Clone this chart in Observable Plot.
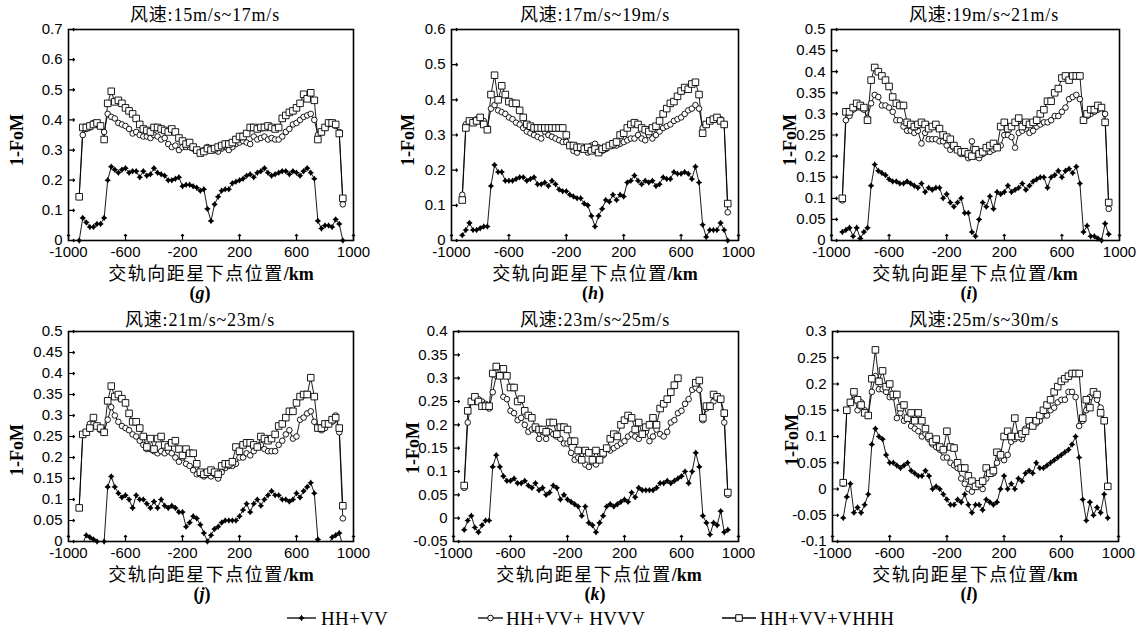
<!DOCTYPE html>
<html><head><meta charset="utf-8">
<script src="https://cdn.jsdelivr.net/npm/d3@7"></script>
<script src="https://cdn.jsdelivr.net/npm/@observablehq/plot@0.6"></script>
<style>
body{margin:0;background:#fff}
#root{position:relative;width:1137px;height:632px;overflow:hidden;background:#fff}
.t{position:absolute;transform:translate(-50%,-50%);white-space:nowrap;color:#000;line-height:1}
.title{font-family:"Liberation Serif","Noto Sans CJK SC",serif;font-size:18px;letter-spacing:0.8px}
.xl{font-family:"Noto Sans CJK SC","Liberation Serif",serif;font-size:18px;letter-spacing:1.5px;line-height:18px}
.xl b{font-family:"Liberation Serif",serif;letter-spacing:0}
.yl{font-family:"Liberation Serif",serif;font-size:18px;font-weight:bold;transform:translate(-50%,-50%) rotate(-90deg)}
.pl{font-family:"Liberation Serif",serif;font-size:18px;font-weight:bold}
.lg{font-family:"Liberation Serif",serif;font-size:19px;position:absolute;white-space:nowrap;transform:translateY(-50%);line-height:1;letter-spacing:0.3px}
.panel{position:absolute}
.panel text{font-size:15px}
</style></head><body><div id="root"></div>
<script>
const xs = [-925,-900,-875,-850,-825,-800,-775,-750,-725,-700,-675,-650,-625,-600,-575,-550,-525,-500,-475,-450,-425,-400,-375,-350,-325,-300,-275,-250,-225,-200,-175,-150,-125,-100,-75,-50,-25,0,25,50,75,100,125,150,175,200,225,250,275,300,325,350,375,400,425,450,475,500,525,550,575,600,625,650,675,700,725,750,775,800,825,850,875,900,925];
const seriesNames = ["HH+VV","HH+VV+ HVVV","HH+VV+VHHH"];
const titles = ["风速:15m/s~17m/s","风速:17m/s~19m/s","风速:19m/s~21m/s","风速:21m/s~23m/s","风速:23m/s~25m/s","风速:25m/s~30m/s"];
const letters = ["g","h","i","j","k","l"];
const xTicks = [-1000,-600,-200,200,600,1000];
const yTicksG = [0,0.1,0.2,0.3,0.4,0.5,0.6,0.7];
const yTicksH = [0,0.1,0.2,0.3,0.4,0.5,0.6];
const yTicksI = [0,0.05,0.1,0.15,0.2,0.25,0.3,0.35,0.4,0.45,0.5];
const yTicksJ = [0,0.05,0.1,0.15,0.2,0.25,0.3,0.35,0.4,0.45,0.5];
const yTicksK = [-0.05,0,0.05,0.1,0.15,0.2,0.25,0.3,0.35,0.4];
const yTicksL = [-0.1,-0.05,0,0.05,0.1,0.15,0.2,0.25,0.3];

// panel g
const gA = [0,0.075,0.06,0.045,0.045,0.055,0.055,0.075,0.2,0.245,0.235,0.225,0.235,0.24,0.225,
0.23,0.23,0.21,0.23,0.215,0.22,0.24,0.225,0.22,0.215,0.2,0.2,0.205,0.21,0.18,
0.185,0.185,0.18,0.175,0.165,0.17,0.105,0.065,0.12,0.145,0.165,0.17,0.17,0.19,0.195,
0.2,0.205,0.215,0.22,0.21,0.225,0.23,0.24,0.225,0.215,0.22,0.225,0.23,0.23,0.22,
0.23,0.225,0.215,0.23,0.24,0.225,0.205,0.065,0.04,0.05,0.05,0.045,0.07,0.055,0];
const gB = [0.145,0.35,0.37,0.375,0.39,0.385,0.38,0.36,0.42,0.41,0.405,0.39,0.385,0.38,0.37,
0.355,0.36,0.35,0.345,0.345,0.34,0.35,0.345,0.335,0.34,0.32,0.31,0.315,0.3,0.31,
0.31,0.31,0.305,0.3,0.295,0.3,0.31,0.305,0.3,0.295,0.305,0.31,0.3,0.31,0.32,
0.325,0.33,0.325,0.32,0.345,0.335,0.34,0.345,0.335,0.34,0.335,0.335,0.345,0.36,0.37,
0.385,0.39,0.4,0.41,0.415,0.42,0.4,0.35,0.36,0.375,0.385,0.39,0.38,0.36,0.12];
const gC = [0.145,0.375,0.375,0.38,0.385,0.39,0.38,0.335,0.455,0.495,0.46,0.465,0.455,0.44,0.43,
0.42,0.405,0.385,0.37,0.365,0.36,0.375,0.375,0.37,0.365,0.36,0.37,0.36,0.34,0.33,
0.32,0.325,0.31,0.3,0.29,0.295,0.305,0.3,0.305,0.31,0.315,0.32,0.32,0.325,0.335,
0.345,0.345,0.355,0.375,0.375,0.37,0.375,0.375,0.38,0.375,0.37,0.375,0.405,0.415,0.425,
0.43,0.44,0.455,0.485,0.47,0.49,0.465,0.335,0.36,0.375,0.39,0.39,0.385,0.355,0.14];
// panel h
const hA = [0.015,0.03,0.05,0.03,0.03,0.035,0.04,0.04,0.155,0.215,0.195,0.195,0.17,0.17,0.17,
0.175,0.18,0.18,0.17,0.175,0.18,0.16,0.16,0.165,0.155,0.17,0.16,0.145,0.14,0.14,
0.13,0.125,0.12,0.12,0.105,0.1,0.07,0.04,0.07,0.09,0.115,0.11,0.13,0.115,0.13,
0.125,0.165,0.17,0.185,0.17,0.16,0.17,0.165,0.17,0.155,0.16,0.18,0.175,0.175,0.195,
0.19,0.19,0.195,0.19,0.175,0.21,0.165,0.045,0.01,0.03,0.03,0.03,0.05,0.03,0];
const hB = [0.13,0.33,0.34,0.34,0.345,0.34,0.34,0.32,0.375,0.385,0.37,0.365,0.36,0.35,0.345,
0.335,0.33,0.32,0.31,0.305,0.3,0.295,0.29,0.31,0.3,0.295,0.29,0.285,0.28,0.28,
0.27,0.255,0.25,0.26,0.265,0.25,0.27,0.275,0.265,0.255,0.26,0.27,0.27,0.27,0.275,
0.28,0.285,0.29,0.29,0.3,0.29,0.285,0.3,0.29,0.3,0.31,0.32,0.325,0.33,0.34,
0.345,0.35,0.36,0.37,0.375,0.385,0.375,0.32,0.33,0.34,0.345,0.35,0.345,0.33,0.08];
const hC = [0.115,0.32,0.34,0.335,0.34,0.35,0.33,0.315,0.415,0.47,0.4,0.44,0.415,0.395,0.39,
0.39,0.37,0.35,0.33,0.325,0.32,0.32,0.32,0.32,0.32,0.32,0.32,0.32,0.32,0.3,
0.27,0.27,0.265,0.265,0.26,0.265,0.255,0.26,0.25,0.26,0.265,0.27,0.275,0.28,0.3,
0.305,0.32,0.33,0.335,0.33,0.32,0.315,0.31,0.32,0.325,0.34,0.36,0.375,0.39,0.395,
0.41,0.425,0.435,0.43,0.445,0.45,0.415,0.305,0.33,0.34,0.345,0.35,0.34,0.33,0.105];
// panel i
const iA = [0.02,0.025,0.03,0.01,0.03,0.005,0.02,0.03,0.13,0.18,0.165,0.16,0.155,0.145,0.14,
0.14,0.135,0.135,0.14,0.135,0.13,0.125,0.135,0.115,0.125,0.12,0.125,0.125,0.1,0.11,
0.09,0.08,0.09,0.1,0.065,0.065,0.02,0.01,0.05,0.09,0.08,0.105,0.075,0.115,0.11,
0.115,0.13,0.115,0.12,0.125,0.135,0.12,0.13,0.14,0.145,0.15,0.15,0.125,0.15,0.155,
0.165,0.15,0.165,0.17,0.16,0.175,0.135,0.02,0.035,0.01,0.01,0.005,0,0.04,0.015];
const iB = [0.095,0.285,0.295,0.31,0.315,0.315,0.31,0.29,0.325,0.345,0.34,0.32,0.32,0.315,0.305,
0.285,0.285,0.27,0.26,0.26,0.255,0.26,0.23,0.255,0.24,0.24,0.24,0.235,0.235,0.225,
0.215,0.22,0.215,0.205,0.205,0.195,0.235,0.2,0.195,0.205,0.21,0.21,0.215,0.22,0.225,
0.25,0.25,0.245,0.22,0.255,0.26,0.265,0.255,0.26,0.27,0.275,0.28,0.28,0.285,0.295,
0.295,0.305,0.315,0.335,0.34,0.345,0.335,0.285,0.295,0.3,0.305,0.31,0.315,0.3,0.075];
const iC = [0.1,0.305,0.305,0.315,0.325,0.32,0.315,0.285,0.38,0.41,0.4,0.39,0.38,0.365,0.34,
0.325,0.32,0.32,0.28,0.275,0.27,0.275,0.28,0.275,0.265,0.27,0.275,0.265,0.25,0.245,
0.24,0.225,0.215,0.21,0.21,0.205,0.2,0.215,0.205,0.21,0.22,0.225,0.23,0.22,0.27,
0.28,0.265,0.27,0.28,0.29,0.27,0.28,0.275,0.28,0.285,0.3,0.31,0.33,0.33,0.35,
0.36,0.385,0.39,0.38,0.39,0.39,0.39,0.285,0.3,0.31,0.31,0.32,0.315,0.28,0.09];
// panel j
const jA = [-0.01,-0.005,0.015,0.01,0.005,0,-0.01,0,0.13,0.155,0.13,0.115,0.105,0.11,0.1,
0.08,0.11,0.1,0.1,0.09,0.08,0.095,0.08,0.1,0.085,0.08,0.085,0.08,0.07,0.07,
0.035,0.045,0.06,0.055,0.04,0.02,0,0.015,0.03,0.035,0.045,0.05,0.05,0.05,0.05,
0.06,0.075,0.09,0.07,0.09,0.1,0.085,0.1,0.11,0.12,0.11,0.11,0.1,0.1,0.095,
0.1,0.115,0.105,0.12,0.13,0.14,0.115,0.005,-0.01,-0.02,-0.01,0.01,0.015,0.02,-0.01];
const jB = [0.08,0.255,0.26,0.28,0.28,0.275,0.265,0.26,0.29,0.32,0.3,0.285,0.275,0.27,0.265,
0.255,0.25,0.24,0.23,0.22,0.22,0.215,0.21,0.215,0.21,0.215,0.21,0.2,0.19,0.2,
0.185,0.18,0.17,0.16,0.16,0.155,0.16,0.155,0.16,0.15,0.165,0.175,0.18,0.18,0.185,
0.2,0.2,0.21,0.205,0.215,0.225,0.23,0.22,0.215,0.215,0.215,0.23,0.24,0.255,0.265,
0.245,0.25,0.29,0.295,0.305,0.31,0.285,0.27,0.265,0.27,0.28,0.285,0.3,0.26,0.055];
const jC = [0.08,0.255,0.26,0.27,0.295,0.275,0.27,0.26,0.335,0.37,0.345,0.35,0.34,0.33,0.305,
0.285,0.285,0.27,0.25,0.225,0.245,0.22,0.245,0.25,0.23,0.225,0.235,0.24,0.22,0.205,
0.22,0.21,0.21,0.185,0.165,0.16,0.165,0.17,0.165,0.16,0.18,0.185,0.185,0.19,0.225,
0.215,0.23,0.235,0.235,0.23,0.225,0.25,0.245,0.24,0.245,0.255,0.275,0.28,0.295,0.31,
0.31,0.33,0.345,0.35,0.35,0.39,0.345,0.27,0.27,0.28,0.28,0.29,0.295,0.27,0.085];
// panel k
const kA = [-0.025,-0.005,0.005,-0.02,-0.03,-0.015,-0.005,-0.005,0.11,0.135,0.11,0.09,0.08,0.08,0.085,
0.075,0.075,0.08,0.07,0.065,0.075,0.06,0.065,0.05,0.055,0.07,0.065,0.04,0.05,0.04,
0.035,0.03,0.025,0.005,0.025,-0.01,-0.015,-0.03,-0.01,0.005,0.025,0.03,0.025,0.03,0.035,
0.04,0.035,0.055,0.045,0.065,0.06,0.06,0.06,0.06,0.065,0.075,0.075,0.08,0.075,0.08,
0.085,0.09,0.1,0.075,0.1,0.14,0.11,0.005,-0.01,-0.035,-0.01,-0.015,0.015,-0.03,-0.025];
const kB = [0.065,0.205,0.25,0.25,0.255,0.25,0.245,0.235,0.27,0.305,0.305,0.26,0.255,0.23,0.225,
0.21,0.215,0.2,0.185,0.19,0.19,0.17,0.185,0.17,0.185,0.18,0.175,0.17,0.16,0.16,
0.14,0.125,0.13,0.125,0.115,0.11,0.12,0.115,0.125,0.135,0.15,0.145,0.15,0.155,0.16,
0.165,0.175,0.18,0.175,0.17,0.18,0.185,0.165,0.175,0.19,0.18,0.175,0.185,0.205,0.21,
0.225,0.23,0.245,0.255,0.275,0.28,0.275,0.21,0.235,0.24,0.25,0.26,0.255,0.205,0.05];
const kC = [0.07,0.23,0.25,0.26,0.25,0.24,0.24,0.24,0.31,0.325,0.305,0.32,0.305,0.28,0.28,
0.25,0.255,0.23,0.22,0.215,0.195,0.19,0.19,0.185,0.205,0.205,0.18,0.195,0.195,0.19,
0.165,0.165,0.145,0.125,0.145,0.14,0.125,0.145,0.125,0.14,0.15,0.17,0.18,0.175,0.2,
0.21,0.22,0.215,0.19,0.205,0.18,0.195,0.2,0.215,0.2,0.235,0.245,0.255,0.27,0.285,
0.3,null,null,null,null,0.29,0.295,0.215,0.24,0.24,0.265,0.26,0.255,0.225,0.055];
// panel l
const lA = [-0.055,-0.015,0.01,-0.045,-0.035,-0.045,-0.03,-0.01,0.085,0.115,0.1,0.095,0.065,0.05,0.05,
0.045,0.04,0.045,0.05,0.035,0.03,0.025,0.025,0.035,0.025,0,0.005,0,-0.01,-0.02,
-0.03,-0.03,-0.02,-0.025,-0.01,-0.03,-0.045,-0.03,-0.03,-0.04,-0.02,-0.025,-0.03,-0.025,0,
0.025,0,0.01,0,0.02,0.015,0.03,0.035,0.03,0.05,0.04,0.04,0.045,0.05,0.055,
0.06,0.065,0.07,0.075,0.085,0.1,0.06,-0.02,-0.06,-0.025,-0.05,-0.035,-0.045,-0.01,-0.055];
const lB = [0.01,0.15,0.165,0.18,0.15,0.165,0.15,0.14,0.185,0.215,0.19,0.19,0.185,0.175,0.175,
0.135,0.145,0.13,0.135,0.12,0.115,0.11,0.1,0.105,0.095,0.085,0.08,0.075,0.06,0.06,
0.05,0.045,0.04,0.02,0.01,0,-0.005,0.005,0.01,0,0.02,0.03,0.03,0.05,0.06,
0.055,0.065,0.09,0.095,0.1,0.095,0.115,0.12,0.12,0.125,0.13,0.14,0.14,0.15,0.155,
0.165,0.17,0.17,0.185,0.185,0.175,0.12,0.13,0.15,0.175,0.18,0.17,0.155,0.13,0.005];
const lC = [0.012,0.15,0.165,0.185,0.17,0.16,0.145,0.14,0.21,0.265,0.205,0.225,0.195,0.2,0.18,
0.18,0.155,0.16,0.135,0.145,0.13,0.145,0.13,0.115,0.1,0.09,0.095,0.08,0.075,0.11,
0.08,0.078,0.05,0.04,0.04,0.025,0.015,0.005,0.01,0.015,0.04,0.03,0.035,0.07,0.065,
0.1,0.11,0.1,0.135,0.1,0.105,0.11,0.13,0.12,0.13,0.14,0.15,0.16,0.17,0.185,
0.195,0.205,0.21,0.215,0.22,0.22,0.22,0.135,0.17,0.155,0.185,0.18,0.145,0.13,0.005];

const star4 = {draw(ctx, size){ const R = Math.sqrt(size/Math.PI)*1.3, r = R*0.4;
  ctx.moveTo(0,-R); ctx.lineTo(r,-r); ctx.lineTo(R,0); ctx.lineTo(r,r); ctx.lineTo(0,R);
  ctx.lineTo(-r,r); ctx.lineTo(-R,0); ctx.lineTo(-r,-r); ctx.closePath(); }};

const layout = [
  {L:68, T:29, W:285, H:211, ticks:yTicksG, dom:[0,0.7], data:[gA,gB,gC], tx:205, ty:15, xlx:211, xly:273, plx:200, ply:293, ylx:17, yly:140},
  {L:451, T:29, W:287, H:211, ticks:yTicksH, dom:[0,0.6], data:[hA,hB,hC], tx:595, ty:15, xlx:595, xly:273, plx:593, ply:293, ylx:408, yly:140},
  {L:831, T:29, W:288, H:211, ticks:yTicksI, dom:[0,0.5], data:[iA,iB,iC], tx:984, ty:15, xlx:975, xly:273, plx:969, ply:293, ylx:790, yly:140},
  {L:68, T:331, W:285, H:210, ticks:yTicksJ, dom:[0,0.5], data:[jA,jB,jC], tx:200, ty:320, xlx:211, xly:574, plx:202, ply:594, ylx:17, yly:450},
  {L:453, T:331, W:285, H:210, ticks:yTicksK, dom:[-0.05,0.4], data:[kA,kB,kC], tx:595, ty:320, xlx:599, xly:574, plx:595, ply:594, ylx:413, yly:448},
  {L:832, T:331, W:286, H:210, ticks:yTicksL, dom:[-0.1,0.3], data:[lA,lB,lC], tx:984, ty:320, xlx:975, xly:574, plx:969, ply:594, ylx:792, yly:440}
];

const root = document.getElementById("root");
const ML = 60, MR = 14, MT = 12, MB = 30;
const fmtY = d => String(+d.toFixed(2));

layout.forEach((p, k) => {
  const rows = p.data.map(arr => xs.map((x, i) => ({x, v: arr[i]})));
  const symbols = [star4, "circle", "square"];
  const rs = [2.5, 2.8, 3.7];
  const marks = [
    Plot.axisX(xTicks, {tickSize: 0, tickPadding: 6, tickFormat: d => String(d), label: null}),
    Plot.axisY(p.ticks, {tickSize: 0, tickPadding: 6, tickFormat: fmtY, label: null}),
    Plot.vector(xTicks, {x: d => d, frameAnchor: "bottom", rotate: 0, length: 6, anchor: "start", stroke: "#000", strokeWidth: 1.2}),
    Plot.vector(p.ticks, {y: d => d, frameAnchor: "left", rotate: 90, length: 6, anchor: "start", stroke: "#000", strokeWidth: 1.2})
  ];
  rows.forEach((r) => {
    marks.push(Plot.line(r, {x: "x", y: "v", stroke: "#000", strokeWidth: 0.9, clip: true}));
  });
  rows.forEach((r, s) => {
    const pts = r.filter(d => d.v != null && d.v >= p.dom[0] - 0.002);
    if (s === 0) marks.push(Plot.dot(pts, {x: "x", y: "v", symbol: star4, r: rs[0], fill: "#000", stroke: "none"}));
    else marks.push(Plot.dot(pts, {x: "x", y: "v", symbol: symbols[s], r: rs[s], fill: "#fff", stroke: "#000", strokeWidth: 0.9}));
  });
  marks.push(Plot.frame({stroke: "#000", strokeWidth: 1.6}));
  const svg = Plot.plot({
    width: p.W + ML + MR, height: p.H + MT + MB,
    marginLeft: ML, marginRight: MR, marginTop: MT, marginBottom: MB,
    x: {domain: [-1000, 1000]},
    y: {domain: p.dom},
    style: {fontFamily: "'Liberation Sans', Arial, sans-serif", fontSize: "15px", color: "#000", background: "transparent", overflow: "visible"},
    marks
  });
  svg.classList.add("panel");
  svg.style.left = (p.L - ML) + "px";
  svg.style.top = (p.T - MT) + "px";
  root.appendChild(svg);

  const add = (cls, x, y, html) => { const d = document.createElement("div"); d.className = "t " + cls; d.style.left = x + "px"; d.style.top = y + "px"; d.innerHTML = html; root.appendChild(d); };
  add("title", p.tx, p.ty, titles[k]);
  add("xl", p.xlx, p.xly, "交轨向距星下点位置<b>/km</b>");
  add("pl", p.plx, p.ply, "(<i>" + letters[k] + "</i>)");
  add("yl", p.ylx, p.yly, "1-FoM");
});

// legend
const legendItems = [{x0:287, x1:316, tx:321}, {x0:478, x1:503, tx:506}, {x0:722, x1:756, tx:760}];
const ns = "http://www.w3.org/2000/svg";
const lsvg = document.createElementNS(ns, "svg");
lsvg.setAttribute("width", 1137); lsvg.setAttribute("height", 40);
lsvg.style.position = "absolute"; lsvg.style.left = "0px"; lsvg.style.top = "598px";
legendItems.forEach((it, s) => {
  const cy = 20, cx = (it.x0 + it.x1) / 2;
  const ln = document.createElementNS(ns, "line");
  ln.setAttribute("x1", it.x0); ln.setAttribute("x2", it.x1); ln.setAttribute("y1", cy); ln.setAttribute("y2", cy);
  ln.setAttribute("stroke", "#000"); ln.setAttribute("stroke-width", 1.3); lsvg.appendChild(ln);
  const path = document.createElementNS(ns, "path");
  const sym = s === 0 ? star4 : (s === 1 ? d3.symbolCircle : d3.symbolSquare);
  const rr = s === 0 ? 2.5 : (s === 1 ? 2.8 : 3.7);
  path.setAttribute("d", d3.symbol(sym, rr * rr * Math.PI)());
  path.setAttribute("transform", `translate(${cx},${cy})`);
  path.setAttribute("fill", s === 0 ? "#000" : "#fff"); path.setAttribute("stroke", s === 0 ? "none" : "#000");
  lsvg.appendChild(path);
  const d = document.createElement("div"); d.className = "lg";
  d.style.left = it.tx + "px"; d.style.top = "618px"; d.textContent = seriesNames[s];
  root.appendChild(d);
});
root.appendChild(lsvg);
</script></body></html>
